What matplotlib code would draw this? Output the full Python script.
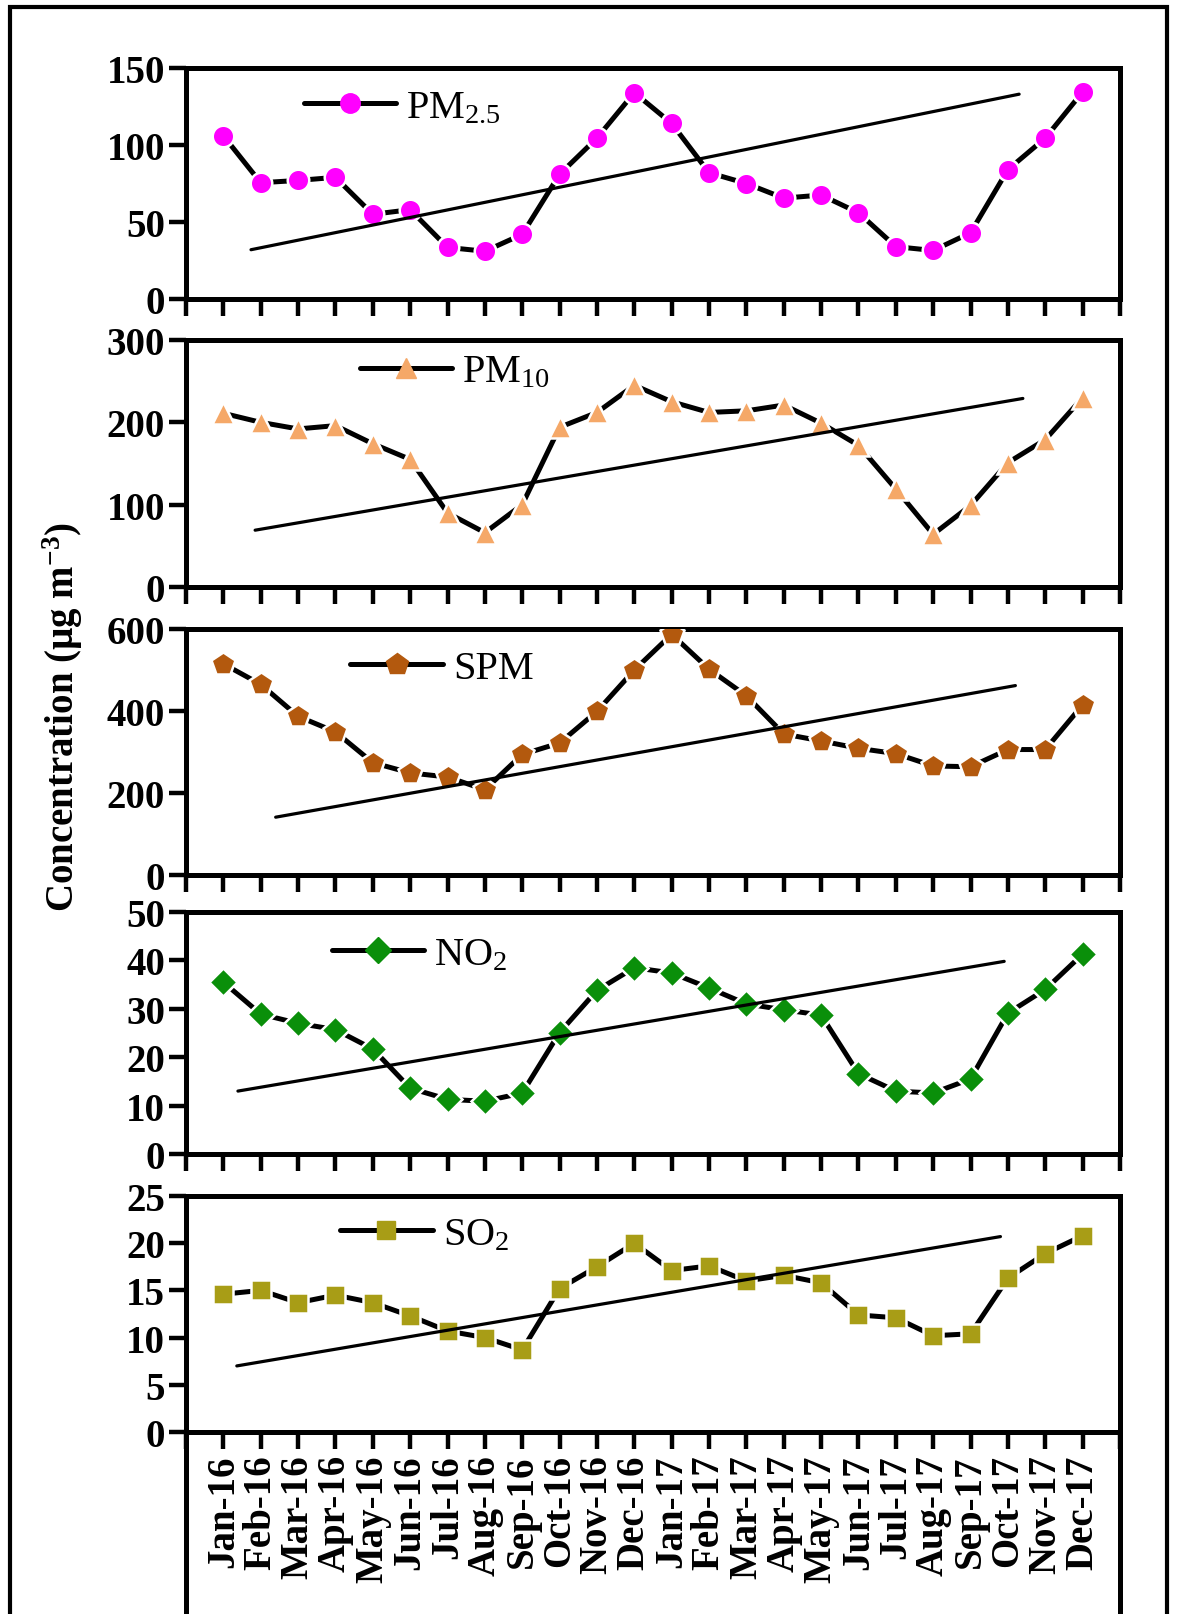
import numpy as np
import matplotlib
matplotlib.use('Agg')
import matplotlib.pyplot as plt
from matplotlib.lines import Line2D

plt.rcParams['font.family'] = ['Liberation Serif', 'DejaVu Serif']
plt.rcParams['mathtext.fontset'] = 'custom'
plt.rcParams['mathtext.rm'] = 'Liberation Serif:weight=normal'
plt.rcParams['mathtext.it'] = 'Liberation Serif:italic'
plt.rcParams['mathtext.bf'] = 'Liberation Serif:weight=bold'

# --- data: monthly mean concentrations, Jan 2016 - Dec 2017 ---
months = ['Jan-16', 'Feb-16', 'Mar-16', 'Apr-16', 'May-16', 'Jun-16',
          'Jul-16', 'Aug-16', 'Sep-16', 'Oct-16', 'Nov-16', 'Dec-16',
          'Jan-17', 'Feb-17', 'Mar-17', 'Apr-17', 'May-17', 'Jun-17',
          'Jul-17', 'Aug-17', 'Sep-17', 'Oct-17', 'Nov-17', 'Dec-17']

pm25 = [106, 75.5, 77, 79, 55, 58, 33.5, 31, 42, 81, 104.5, 134,
        114, 82, 75, 65.5, 67.5, 56, 34, 31.5, 43, 84, 104.5, 134.5]
pm10 = [211, 200, 192, 196, 174, 155, 90, 66, 100, 194, 212, 245,
        225, 212, 214, 221, 199, 172, 119, 64, 99, 151, 179, 230]
spm = [515, 465, 387, 349, 274, 249, 239, 208, 294, 322, 399, 500,
       587, 502, 437, 344, 327, 309, 296, 266, 264, 306, 306, 415]
no2 = [35.5, 28.9, 27, 25.7, 21.7, 13.6, 11.3, 10.9, 12.6, 25.1, 33.8, 38.5,
       37.4, 34.3, 31, 29.8, 28.7, 16.6, 13, 12.6, 15.5, 29.1, 34, 41.3]
so2 = [14.6, 15, 13.7, 14.5, 13.7, 12.3, 10.7, 10, 8.7, 15.2, 17.5, 20,
       17.1, 17.6, 16, 16.6, 15.8, 12.4, 12.1, 10.2, 10.4, 16.3, 18.9, 20.8]

# linear trend lines (start/end in month index and concentration)
trend_x0 = [0.74, 0.85, 1.4, 0.39, 0.36]
trend_x1 = [21.3, 21.4, 21.2, 20.9, 20.8]
trend_y0 = [32, 69, 141, 13, 7]
trend_y1 = [133, 229, 462, 39.8, 20.7]

labels = ['PM$_{2.5}$', 'PM$_{10}$', 'SPM', 'NO$_{2}$', 'SO$_{2}$']
series = [pm25, pm10, spm, no2, so2]
ymax = [150, 300, 600, 50, 25]
ystep = [50, 100, 200, 10, 5]

markers = ['o', '^', 'p', 'D', 's']
colors = ['#FF00FF', '#F5A868', '#B3590E', '#0A8F0A', '#A89D16']
msizes = [15.5, 16.5, 17.5, 14.5, 14.5]

W, H = 1177, 1615
fig = plt.figure(figsize=(W / 100, H / 100), dpi=100)

left_px, right_px = 186, 1120
panel_px = [(69, 300), (341, 588), (630, 876), (913, 1155), (1197, 1433)]
legend_pos = [(0.126, 0.83), (0.186, 0.87), (0.176, 0.84), (0.156, 0.824), (0.165, 0.836)]

x = np.arange(len(months))
LW = 3.6

for i, (top, bot) in enumerate(panel_px):
    ax = fig.add_axes([left_px / W, 1 - bot / H, (right_px - left_px) / W, (bot - top) / H])
    y = series[i]

    ax.plot(x, y, color='black', lw=LW, marker=markers[i], ms=msizes[i],
            mfc=colors[i], mec='white', mew=1.8, solid_capstyle='round', zorder=3)
    ax.plot([trend_x0[i], trend_x1[i]], [trend_y0[i], trend_y1[i]],
            color='black', lw=2.3, solid_capstyle='round', zorder=4)

    ax.set_xlim(-1, len(months))
    ax.set_ylim(0, ymax[i])
    ax.set_yticks(np.arange(0, ymax[i] + 1, ystep[i]))
    ax.set_xticks(np.arange(-1, len(months) + 1))
    if i == len(panel_px) - 1:
        ax.set_xticklabels([''] + months + [''], rotation=90, fontsize=28,
                           fontweight='bold')
    else:
        ax.set_xticklabels([])
    for lab in ax.get_yticklabels():
        lab.set_fontweight('bold')

    for s in ax.spines.values():
        s.set_linewidth(LW)
    ax.tick_params(axis='both', direction='out', length=12, width=3.2,
                   labelsize=28, pad=3)
    ax.tick_params(axis='x', pad=4)

    proxy = Line2D([], [], color='black', lw=LW, marker=markers[i],
                   ms=msizes[i] - 1.5, mfc=colors[i], mec=colors[i],
                   solid_capstyle='round')
    ax.legend([proxy], [labels[i]], loc='center left',
              bbox_to_anchor=legend_pos[i], frameon=False, handlelength=2.3,
              handletextpad=0.25, borderpad=0, borderaxespad=0,
              prop={'weight': 'normal', 'size': 29})

# plot-area sides continue down past the bottom panel
lx, rx = left_px / W, right_px / W
yb = 1 - panel_px[-1][1] / H
for xx in (lx, rx):
    fig.add_artist(Line2D([xx, xx], [0, yb], color='black', lw=LW,
                          transform=fig.transFigure))

# outer frame
fx0, fx1, fy1 = 10 / W, 1167 / W, 1 - 8 / H
fig.add_artist(Line2D([fx0, fx0, fx1, fx1], [0, fy1, fy1, 0], color='black',
                      lw=3.0, transform=fig.transFigure, solid_joinstyle='miter'))

fig.text(0.053, 0.556, 'Concentration (µg m$^{\\mathbf{-3}}$)', rotation=90,
         ha='center', va='center', fontsize=28, fontweight='bold')

fig.savefig('out.png', dpi=100)
